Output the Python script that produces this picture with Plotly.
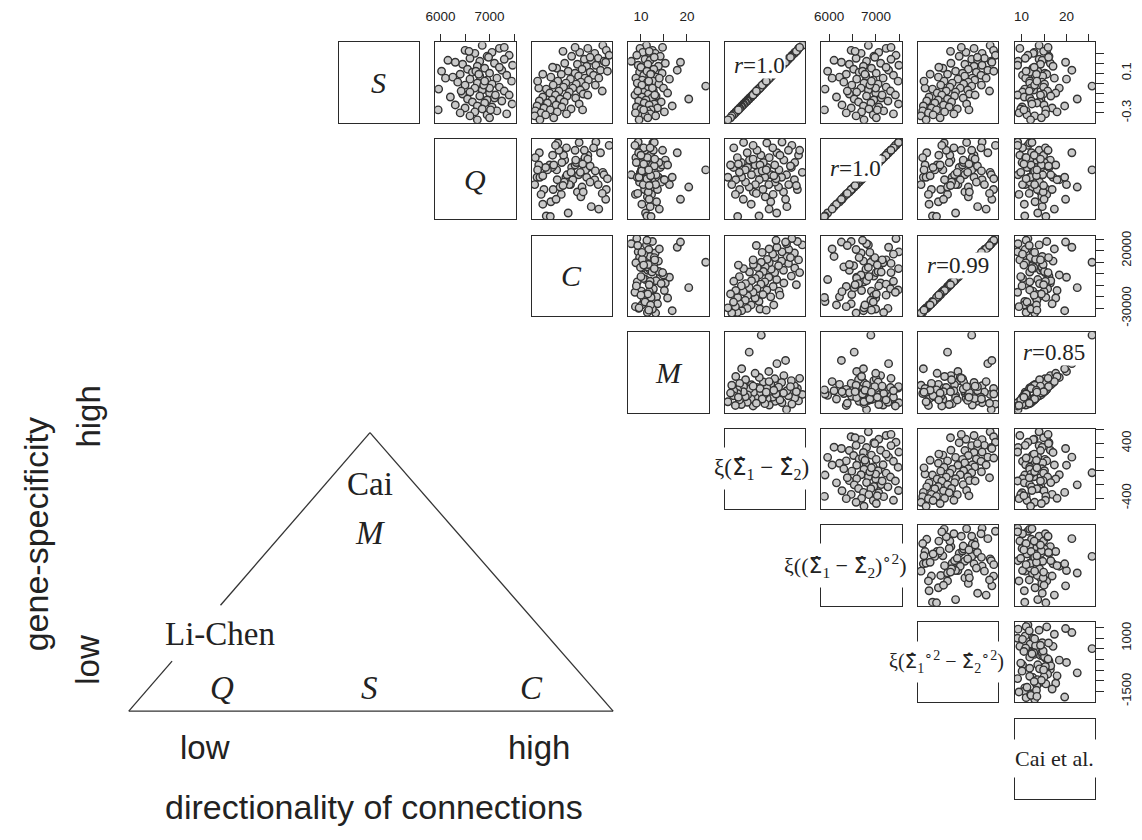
import plotly.graph_objects as go

# ---------------- data ----------------
S = [0.38, 0.35, 0.33, 0.31, 0.30, 0.28, 0.27, 0.25, 0.24, 0.23,
     0.22, 0.20, 0.19, 0.18, 0.17, 0.15, 0.14, 0.13, 0.12, 0.11,
     0.10, 0.09, 0.08, 0.07, 0.06, 0.05, 0.04, 0.03, 0.02, 0.01,
     0.00, -0.01, -0.02, -0.03, -0.04, -0.05, -0.06, -0.07, -0.08, -0.09,
     -0.10, -0.11, -0.12, -0.13, -0.14, -0.15, -0.16, -0.17, -0.18, -0.19,
     -0.20, -0.21, -0.22, -0.23, -0.24, -0.25, -0.26, -0.27, -0.28, -0.29,
     -0.30, -0.31, -0.32, -0.33, -0.35, -0.37, 0.21, 0.05, -0.05, 0.16,
     0.26, 0.12, -0.02, -0.12, 0.32, -0.27, 0.09, 0.36, -0.08, 0.02]

Q = [6850, 7200, 6500, 7050, 6700, 7400, 6950, 6600, 7300, 6150,
     6800, 7100, 6450, 7470, 6750, 6900, 6550, 7250, 6020, 6650,
     7000, 6400, 7350, 6800, 6250, 7150, 6600, 6950, 7450, 6350,
     6750, 7050, 6500, 6900, 7200, 6700, 5960, 6850, 7300, 6600,
     7000, 6450, 7400, 6800, 6200, 7100, 6550, 6950, 7250, 6650,
     6900, 7460, 6300, 6750, 7050, 6500, 6850, 5950, 7150, 6700,
     6400, 7350, 6950, 6600, 7000, 6750, 6300, 6100, 7000, 7200,
     6980, 6720, 6880, 7120, 6580, 7020, 6780, 7300, 6420, 6900]

C = [25000, 12000, 28000, 5000, 18000, 30500, -2000, 21000, 9000, 15000,
     26000, -8000, 3000, 19000, 11000, -15000, 7000, 23000, -5000, 14000,
     1000, -11000, 17000, 4000, -20000, 9500, -3000, 12500, -14000, 6000,
     -7000, 2000, -18000, 10000, -9000, -1000, -24000, 5500, -13000, -4000,
     -21000, 8000, -16000, -6000, -27000, 1500, -12000, -19000, -30000, -8500,
     -23000, 4500, -15500, -32000, -10500, -26000, -2500, -20500, -33500, -14500,
     -28500, -6500, -24500, -34000, -17500, -29500, 27500, 21500, -30500, -18500,
     14000, 29000, 18500, 12000, -9500, 7500, -27000, 1000, 24500, -31500]

M = [11.2, 9.8, 12.5, 10.4, 13.1, 9.1, 14.2, 11.7, 10.9, 12.0,
     7.9, 15.3, 11.5, 9.4, 13.8, 10.1, 12.8, 17.9, 11.0, 9.7,
     14.6, 12.3, 10.6, 11.9, 13.4, 8.9, 16.2, 10.3, 12.6, 11.4,
     9.2, 13.9, 10.8, 24.1, 12.1, 14.9, 11.3, 9.9, 12.7, 10.5,
     15.8, 11.6, 8.7, 13.3, 10.2, 12.4, 20.4, 11.1, 9.5, 14.4,
     10.7, 12.9, 11.8, 16.8, 9.0, 13.6, 10.0, 12.2, 11.4, 15.1,
     8.8, 12.0, 10.9, 13.2, 11.5, 9.6, 18.6, 14.0, 12.5, 10.0,
     12.9, 11.3, 10.2, 13.0, 11.8, 10.6, 12.1, 14.7, 9.3, 11.7]

XI_DIFF = [570, 515, 498, 460, 455, 418, 410, 372, 368, 345,
           340, 301, 296, 274, 268, 230, 224, 200, 197, 172,
           168, 145, 139, 116, 110, 88, 82, 58, 53, 30,
           24, 2, -4, -28, -33, -57, -61, -86, -90, -114,
           -118, -143, -147, -171, -175, -200, -204, -228, -233, -257,
           -261, -286, -290, -314, -319, -343, -347, -372, -376, -400,
           -405, -429, -433, -458, -476, -515, 326, 86, -47, 244,
           397, 187, -14, -147, 483, -362, 154, 531, -100, 44]

XI_DIFF_SQ = [6838, 7218, 6470, 7060, 6683, 7428, 6955, 6576, 7322, 6105,
              6799, 7100, 6431, 7490, 6733, 6903, 6524, 7270, 5968, 6641,
              7006, 6366, 7374, 6786, 6221, 7153, 6589, 6943, 7474, 6314,
              6745, 7047, 6484, 6891, 7218, 6681, 5912, 6838, 7310, 6588,
              6995, 6432, 7415, 6799, 6157, 7112, 6536, 6955, 7256, 6628,
              6891, 7482, 6275, 6733, 7060, 6471, 6850, 5900, 7165, 6693,
              6366, 7374, 6943, 6576, 7008, 6745, 6262, 6064, 6994, 7217,
              6975, 6714, 6870, 7133, 6555, 7029, 6765, 7322, 6388, 6903]

XI_SQ_DIFF = [1380, 620, 1540, 240, 1000, 1630, -80, 1110, 510, 790,
              1430, -470, 190, 1000, 620, -850, 350, 1270, -250, 730,
              80, -630, 950, 180, -1060, 540, -140, 650, -790, 350,
              -410, 130, -950, 510, -520, -30, -1340, 320, -690, -250,
              -1120, 400, -900, -300, -1500, 110, -630, -1070, -1610, -440,
              -1230, 270, -820, -1770, -550, -1390, -170, -1150, -1800, -770,
              -1530, -330, -1310, -1880, -980, -1640, 1460, 1190, -1690, -1040,
              780, 1550, 970, 670, -490, 380, -1450, 20, 1350, -1740]

CAI = [13.9, 9.6, 15.6, 12.8, 12.6, 11.4, 16.1, 10.8, 13.9, 14.6,
       9.2, 16.4, 14.2, 9.1, 17.0, 12.5, 12.4, 21.2, 13.6, 11.9,
       15.2, 15.6, 10.2, 14.7, 13.0, 10.9, 20.0, 13.1, 11.8, 14.5,
       11.8, 15.1, 13.5, 25.7, 14.9, 18.4, 10.7, 12.7, 15.8, 10.2,
       17.6, 14.8, 9.1, 16.5, 10.6, 11.8, 22.4, 14.3, 12.2, 14.0,
       13.4, 12.3, 15.0, 19.6, 10.1, 16.8, 9.8, 15.4, 11.0, 17.9,
       9.4, 15.3, 11.2, 12.9, 14.4, 12.0, 19.8, 17.3, 12.1, 12.8,
       16.0, 11.0, 12.9, 14.2, 14.9, 10.5, 13.3, 15.9, 11.7, 13.4]

HAT_SIGMA = "<span style=\"font-family:DejaVu Sans\">Σ\u0302</span>"
VAR_LABELS = ["<i>S</i>", "<i>Q</i>", "<i>C</i>", "<i>M</i>",
              "ξ(" + HAT_SIGMA + "<sub>1</sub> − " + HAT_SIGMA + "<sub>2</sub>)",
              "ξ((" + HAT_SIGMA + "<sub>1</sub> − " + HAT_SIGMA + "<sub>2</sub>)<sup>∘2</sup>)",
              "ξ(" + HAT_SIGMA + "<sub>1</sub><sup>∘2</sup> − " + HAT_SIGMA + "<sub>2</sub><sup>∘2</sup>)",
              "Cai et al."]

CORR_LABELS = {(0, 4): "1.0", (1, 5): "1.0", (2, 6): "0.99", (3, 7): "0.85"}

TOP_TICKS = {1: ([6000, 6500, 7000, 7500], ["6000", "", "7000", ""]),
             3: ([10, 15, 20], ["10", "", "20"]),
             5: ([6000, 6500, 7000, 7500], ["6000", "", "7000", ""]),
             7: ([10, 15, 20, 25], ["10", "", "20", ""])}
RIGHT_TICKS = {0: ([-0.3, -0.2, -0.1, 0, 0.1, 0.2, 0.3], ["-0.3", "", "", "", "0.1", "", ""]),
               2: ([-30000, -20000, -10000, 0, 10000, 20000, 30000],
                   ["-30000", "", "", "", "", "20000", ""]),
               4: ([-400, -200, 0, 200, 400, 600], ["-400", "", "", "", "400", ""]),
               6: ([-1500, -1000, -500, 0, 500, 1000, 1500],
                   ["-1500", "", "", "", "", "1000", ""])}

VARS = [S, Q, C, M, XI_DIFF, XI_DIFF_SQ, XI_SQ_DIFF, CAI]

# ---------------- geometry (screen pixels) ----------------
OFF = 8
W, H = 1142 - 2 * OFF, 840 - 2 * OFF


def fx(px):
    return (px - OFF) / W


def fy(py):
    return 1 - (py - OFF) / H


X0, Y0, PITCH, SIZE = 336, 38, 98.5, 82
LINE = "#2a2a2a"
SERIF = "Liberation Serif"
SANS = "Liberation Sans"


def prange(v):
    lo, hi = min(v), max(v)
    pad = 0.04 * (hi - lo)
    return [lo - pad, hi + pad]


RANGES = [prange(v) for v in VARS]

fig = go.Figure()
layout = dict(width=W, height=H, margin=dict(l=0, r=0, t=0, b=0),
              paper_bgcolor="white", plot_bgcolor="white", showlegend=False)
annotations = []
shapes = []

base_axis = dict(showgrid=False, zeroline=False, showline=True, mirror=True,
                 linecolor=LINE, linewidth=1.3, ticks="", showticklabels=False,
                 fixedrange=True)

k = 0
for i in range(8):
    for j in range(i, 8):
        k += 1
        sfx = "" if k == 1 else str(k)
        left = X0 + PITCH * j
        top = Y0 + PITCH * i
        xa = dict(base_axis, domain=[fx(left), fx(left + SIZE)], anchor="y" + sfx)
        ya = dict(base_axis, domain=[fy(top + SIZE), fy(top)], anchor="x" + sfx)
        if i == j:
            xa["range"] = [0, 1]
            ya["range"] = [0, 1]
            fig.add_trace(go.Scatter(x=[], y=[], xaxis="x" + sfx, yaxis="y" + sfx,
                                     mode="markers", hoverinfo="skip"))
        else:
            xa["range"] = RANGES[j]
            ya["range"] = RANGES[i]
            fig.add_trace(go.Scatter(
                x=VARS[j], y=VARS[i], xaxis="x" + sfx, yaxis="y" + sfx,
                mode="markers", hoverinfo="skip",
                marker=dict(size=7.5, color="#cacaca",
                            line=dict(color="#333333", width=1.4))))
            if i == 0 and j in TOP_TICKS:
                tv, tt = TOP_TICKS[j]
                xa.update(side="top", ticks="outside", ticklen=7, tickwidth=1,
                          tickcolor=LINE, tickvals=tv, ticktext=tt,
                          showticklabels=True, ticklabelstandoff=8,
                          tickfont=dict(family=SANS, size=13.5, color="#222"))
            if j == 7 and i in RIGHT_TICKS:
                tv, tt = RIGHT_TICKS[i]
                ya.update(side="right", ticks="outside", ticklen=8, tickwidth=1,
                          tickcolor=LINE, tickvals=tv, ticktext=tt,
                          showticklabels=True, tickangle=-90, ticklabelstandoff=11,
                          tickfont=dict(family=SANS, size=13, color="#222"))
            if (i, j) in CORR_LABELS:
                dy = {(0, 4): 24, (1, 5): 30, (2, 6): 31, (3, 7): 21}[(i, j)]
                annotations.append(dict(
                    x=fx(left + 8), y=fy(top + dy), xref="paper", yref="paper",
                    xanchor="left", yanchor="middle", showarrow=False,
                    text="<i>r</i>=" + CORR_LABELS[(i, j)],
                    font=dict(family=SERIF, size=23, color="#222"),
                    bgcolor="white", borderpad=0))
        layout["xaxis" + sfx] = xa
        layout["yaxis" + sfx] = ya

# diagonal labels
DX = [0, 0, 0, 0, -4, -17, -12, 0]
DIAG_SIZE = [30, 30, 30, 30, 23, 22, 20, 22]
for i in range(8):
    left = X0 + PITCH * i
    top = Y0 + PITCH * i
    bg = "rgba(0,0,0,0)" if i < 4 else "white"
    annotations.append(dict(x=fx(left + SIZE / 2 + DX[i]), y=fy(top + SIZE / 2),
                            xref="paper", yref="paper", xanchor="center",
                            yanchor="middle", showarrow=False, text=VAR_LABELS[i],
                            font=dict(family=SERIF, size=DIAG_SIZE[i], color="#222"),
                            bgcolor=bg, borderpad=6))

# ---------------- triangle diagram ----------------
APEX = (368, 436)
BL = (122, 720)
BR = (616, 720)
GAP_Y = (612, 669)


def on_left_edge(y):
    t = (y - APEX[1]) / (BL[1] - APEX[1])
    return APEX[0] + t * (BL[0] - APEX[0])


segs = [(APEX, BR), (BL, BR),
        (APEX, (on_left_edge(GAP_Y[0]), GAP_Y[0])),
        ((on_left_edge(GAP_Y[1]), GAP_Y[1]), BL)]
for a, b in segs:
    shapes.append(dict(type="line", xref="paper", yref="paper",
                       x0=fx(a[0]), y0=fy(a[1]), x1=fx(b[0]), y1=fy(b[1]),
                       line=dict(color="#333", width=1.3)))

tri_text = [("Cai", 368, 488, SERIF, 33, 0),
            ("<i>M</i>", 368, 538, SERIF, 33, 0),
            ("Li-Chen", 215, 641, SERIF, 33, 0),
            ("<i>Q</i>", 217, 696, SERIF, 33, 0),
            ("<i>S</i>", 368, 696, SERIF, 33, 0),
            ("<i>C</i>", 533, 696, SERIF, 33, 0),
            ("low", 200, 757, SANS, 33, 0),
            ("high", 540, 757, SANS, 33, 0),
            ("directionality of connections", 372, 818, SANS, 34, 0),
            ("gene-specificity", 27, 540, SANS, 34, -90),
            ("high", 80, 420, SANS, 33, -90),
            ("low", 80, 668, SANS, 33, -90)]
for txt, px, py, fam, sz, ang in tri_text:
    annotations.append(dict(x=fx(px), y=fy(py), xref="paper", yref="paper",
                            xanchor="center", yanchor="middle", showarrow=False,
                            text=txt, textangle=ang,
                            font=dict(family=fam, size=sz, color="#222")))

layout["annotations"] = annotations
layout["shapes"] = shapes
fig.update_layout(**layout)
fig.write_html("out.html")
